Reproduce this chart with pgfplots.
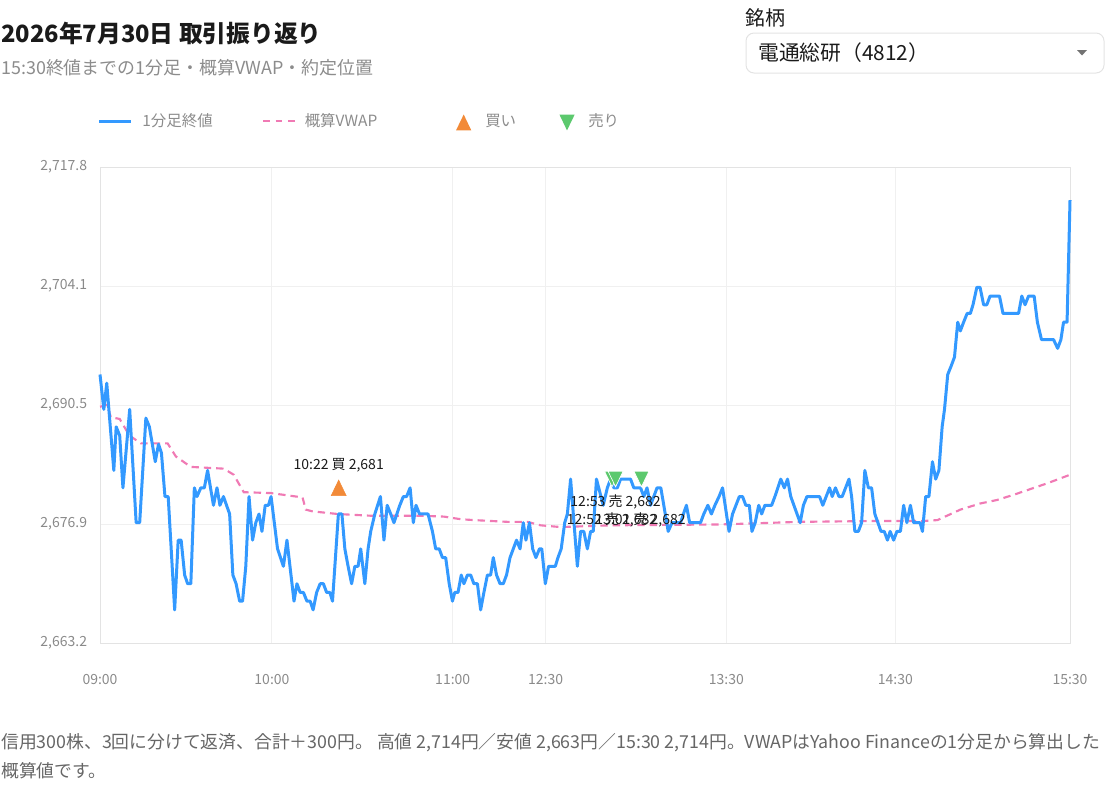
\documentclass[border=0pt]{standalone}
\usepackage{fontspec}
\setmainfont{Noto Sans CJK JP}
\usepackage{pgfplots}
\pgfplotsset{compat=1.18}
\usepackage{pgfplotstable}

\definecolor{lineblue}{HTML}{3399FF}
\definecolor{vwappink}{HTML}{F07AB4}
\definecolor{buyorange}{HTML}{F28A38}
\definecolor{sellgreen}{HTML}{5CC96E}
\definecolor{gridc}{HTML}{F0F0F0}
\definecolor{axisc}{HTML}{E3E3E3}
\definecolor{tickc}{HTML}{8A8A8A}
\definecolor{subc}{HTML}{8C8C8C}
\definecolor{bodyc}{HTML}{666666}
\definecolor{titlec}{HTML}{1A1A1A}

% x = bar position from 09:00 (lunch break removed), y = price in yen
\pgfplotstableread{
x y
0.0 2694
1.3 2690
2.3 2693
4.7 2683
5.5 2688
6.7 2687
7.8 2681
10.1 2690
12.3 2677
13.5 2677
15.6 2689
16.8 2688
18.8 2684
19.9 2686
20.9 2685
22.1 2680
23.2 2680
25.4 2667
26.6 2675
27.6 2675
28.8 2671
29.8 2670
30.9 2670
32.1 2681
33.0 2680
34.3 2681
35.5 2681
36.6 2683
38.6 2679
39.8 2681
40.8 2679
42.0 2680
44.1 2678
45.2 2671
46.3 2670
47.5 2668
48.5 2668
49.6 2672
50.7 2680
51.9 2675
53.0 2677
54.1 2678
55.1 2676
56.2 2679
57.3 2679
58.2 2680
60.4 2674
62.4 2672
63.6 2675
66.0 2668
67.0 2670
68.1 2669
69.2 2669
70.4 2668
71.5 2668
72.5 2667
73.7 2669
74.9 2670
76.0 2670
77.1 2669
78.2 2669
79.1 2668
81.1 2678
82.3 2678
83.3 2674
84.4 2672
85.6 2670
86.7 2672
87.8 2672
88.7 2674
90.1 2670
91.2 2674
92.1 2676
93.5 2678
95.4 2680
96.6 2675
97.7 2679
98.9 2678
100.0 2677
102.0 2679
103.2 2680
104.3 2680
105.5 2681
106.6 2677
107.5 2679
108.7 2678
110.0 2678
111.6 2678
113.1 2676
114.2 2674
115.4 2674
116.5 2673
117.6 2673
118.8 2670
119.9 2668
120.7 2669
121.8 2669
122.9 2671
123.8 2670
125.0 2671
126.1 2671
127.2 2670
128.4 2670
129.5 2667
130.6 2669
131.8 2671
132.9 2671
133.8 2673
134.9 2671
136.1 2670
137.2 2670
138.3 2671
139.5 2673
140.6 2674
141.7 2675
142.9 2674
144.0 2677
144.9 2675
146.1 2677
147.2 2674
148.3 2673
149.5 2674
150.3 2674
151.5 2670
152.6 2672
153.7 2672
154.9 2672
155.8 2673
156.9 2674
158.1 2677
159.0 2678
160.1 2682
162.4 2672
163.5 2676
164.6 2676
165.8 2674
166.9 2676
167.8 2676
168.9 2682
171.2 2679
172.6 2681
173.7 2682
174.8 2681
176.0 2681
177.1 2682
178.0 2682
179.4 2682
180.5 2682
181.6 2681
182.8 2681
183.9 2681
185.0 2680
186.1 2681
187.3 2679
188.4 2680
189.5 2681
190.8 2681
191.8 2679
193.3 2676
194.6 2677
196.1 2677
197.5 2677
198.5 2678
199.5 2679
200.6 2677
201.9 2677
203.1 2677
204.3 2677
205.4 2678
206.8 2679
208.0 2678
209.2 2679
210.6 2680
211.8 2681
214.0 2676
215.2 2678
217.5 2680
218.6 2680
219.7 2679
220.9 2679
221.8 2676
222.9 2677
224.1 2679
225.1 2678
226.2 2679
227.3 2679
228.5 2679
229.6 2680
231.6 2682
232.8 2681
233.9 2682
235.0 2680
238.2 2677
239.3 2679
240.5 2680
244.8 2680
245.9 2679
248.2 2681
249.1 2680
250.2 2681
251.4 2680
252.5 2680
254.8 2682
255.7 2680
256.8 2676
258.0 2676
259.1 2677
260.2 2683
261.4 2681
262.5 2681
263.6 2678
265.7 2676
266.8 2676
267.9 2675
268.8 2676
270.0 2675
271.1 2676
272.3 2676
273.4 2679
274.5 2677
275.7 2679
276.8 2677
277.9 2677
279.0 2677
279.8 2676
280.9 2680
282.0 2680
283.2 2684
284.3 2682
285.4 2683
286.5 2688
287.3 2690
288.4 2694
289.6 2695
290.7 2696
291.8 2700
292.7 2699
293.8 2700
295.0 2701
296.1 2701
297.0 2702
298.3 2704
299.4 2704
300.6 2702
301.7 2702
302.8 2703
304.0 2703
305.1 2703
306.0 2703
307.2 2701
308.3 2701
309.4 2701
310.6 2701
311.5 2701
312.5 2701
313.6 2703
314.7 2702
315.9 2703
316.8 2703
317.8 2703
318.9 2700
320.3 2698
321.4 2698
322.6 2698
323.5 2698
324.4 2698
325.8 2697
326.9 2698
327.8 2700
329.0 2700
330.0 2714
}\closes

\pgfplotstableread{
x y
0.0 2690.3
2.4 2690.5
3.7 2689.1
6.7 2688.9
10.0 2687.0
13.9 2686.1
23.0 2686.1
25.8 2684.6
30.9 2683.4
42.1 2683.2
45.5 2682.5
48.9 2680.5
58.1 2680.4
68.9 2679.9
70.0 2678.5
72.3 2678.3
80.8 2678.0
92.1 2677.8
109.1 2677.8
117.0 2677.7
122.7 2677.4
127.2 2677.3
138.6 2677.1
145.4 2677.1
149.9 2676.7
156.7 2676.5
173.7 2676.7
211.1 2676.8
238.3 2677.1
265.7 2677.2
280.4 2677.2
284.9 2677.3
292.7 2678.5
299.4 2679.2
305.1 2679.6
310.8 2680.2
322.1 2681.5
330.0 2682.5
}\vwap

\begin{document}
\begin{tikzpicture}
\begin{axis}[
    at={(75pt,-482.25pt)}, anchor=south west,
    scale only axis, width=727.5pt, height=357pt,
    xmin=0, xmax=330, ymin=2663.2, ymax=2717.8,
    xtick={0,58.5,120,151.6,213.1,270.6,330},
    xticklabels={09:00,10:00,11:00,12:30,13:30,14:30,15:30},
    ytick={2663.2,2676.85,2690.5,2704.15,2717.8},
    yticklabels={{2,663.2},{2,676.9},{2,690.5},{2,704.1},{2,717.8}},
    grid=major,
    major grid style={draw=gridc, line width=0.75pt},
    axis line style={draw=axisc, line width=0.75pt},
    major tick length=0pt,
    tick label style={font=\fontsize{10.5}{12}\selectfont, text=tickc},
    xticklabel style={anchor=center, yshift=-27pt},
    yticklabel style={anchor=east, inner sep=0pt, xshift=-9.5pt},
    /pgf/number format/assume math mode=true,
    clip=false,
]
\addplot[vwappink, line width=1.6pt, dash pattern=on 5.5pt off 3.75pt] table[x=x, y=y] {\vwap};
\addplot[lineblue, line width=2.25pt, line join=round] table[x=x, y=y] {\closes};
\addplot[only marks, mark=triangle*, mark size=6.5pt, buyorange,
    mark options={yshift=-2pt, yscale=1.2}] coordinates {(81.2,2681)};
\addplot[only marks, mark=triangle*, mark size=6.5pt, sellgreen,
    mark options={draw=white, line width=0.5pt, fill=sellgreen, yshift=2pt, rotate=180, yscale=1.2}]
    coordinates {(174.2,2682) (175.4,2682) (184.2,2682)};
\node[font=\fontsize{10.5}{12}\selectfont, text=titlec, inner sep=0pt] at (axis cs:81.2,2683.6) {10:22 買 2,681};
\node[font=\fontsize{10.5}{12}\selectfont, text=titlec, inner sep=0pt] at (axis cs:175.4,2679.4) {12:53 売 2,682};
\node[font=\fontsize{10.5}{12}\selectfont, text=titlec, inner sep=0pt] at (axis cs:174.2,2677.3) {12:52 売 2,682};
\node[font=\fontsize{10.5}{12}\selectfont, text=titlec, inner sep=0pt] at (axis cs:183.9,2677.3) {13:01 売 2,682};
\end{axis}

\begin{scope}[x=0.75pt, y=-0.75pt]
\useasboundingbox (0,0) rectangle (1105,786);
% title block
\node[anchor=west, inner sep=0pt, font=\fontsize{17.8}{20}\selectfont\bfseries, text=titlec] at (1,33) {2026年7月30日 取引振り返り};
\node[anchor=west, inner sep=0pt, font=\fontsize{13.45}{15}\selectfont, text=subc] at (1,68) {15:30終値までの1分足・概算VWAP・約定位置};
% selector
\node[anchor=west, inner sep=0pt, font=\fontsize{15}{17}\selectfont, text=titlec] at (745,18) {銘柄};
\draw[draw=axisc, line width=0.75pt, rounded corners=6pt] (746,33) rectangle (1104,73);
\node[anchor=west, inner sep=0pt, font=\fontsize{15.6}{17}\selectfont, text=titlec] at (758,53) {電通総研（4812）};
\fill[black!55] (1077,50) -- (1087,50) -- (1082,55.5) -- cycle;
% legend
\draw[lineblue, line width=2.25pt] (99,121) -- (131,121);
\node[anchor=west, inner sep=0pt, font=\fontsize{11.6}{14}\selectfont, text=subc] at (142,121) {1分足終値};
\draw[vwappink, line width=1.6pt, dash pattern=on 5pt off 4.5pt] (263,121) -- (295,121);
\node[anchor=west, inner sep=0pt, font=\fontsize{11.6}{14}\selectfont, text=subc] at (304.5,121) {概算VWAP};
\fill[buyorange] (456,130.4) -- (471.3,130.4) -- (463.7,114.5) -- cycle;
\node[anchor=west, inner sep=0pt, font=\fontsize{11.6}{14}\selectfont, text=subc] at (485,121) {買い};
\fill[sellgreen] (559.4,114.5) -- (574.7,114.5) -- (567,130.4) -- cycle;
\node[anchor=west, inner sep=0pt, font=\fontsize{11.6}{14}\selectfont, text=subc] at (588,121) {売り};
% note
\node[anchor=west, inner sep=0pt, font=\fontsize{13.35}{15}\selectfont, text=bodyc] at (1,743) {信用300株、3回に分けて返済、合計＋300円。 高値 2,714円／安値 2,663円／15:30 2,714円。VWAPはYahoo Financeの1分足から算出した};
\node[anchor=west, inner sep=0pt, font=\fontsize{13.35}{15}\selectfont, text=bodyc] at (1,771) {概算値です。};
\end{scope}
\end{tikzpicture}
\end{document}
